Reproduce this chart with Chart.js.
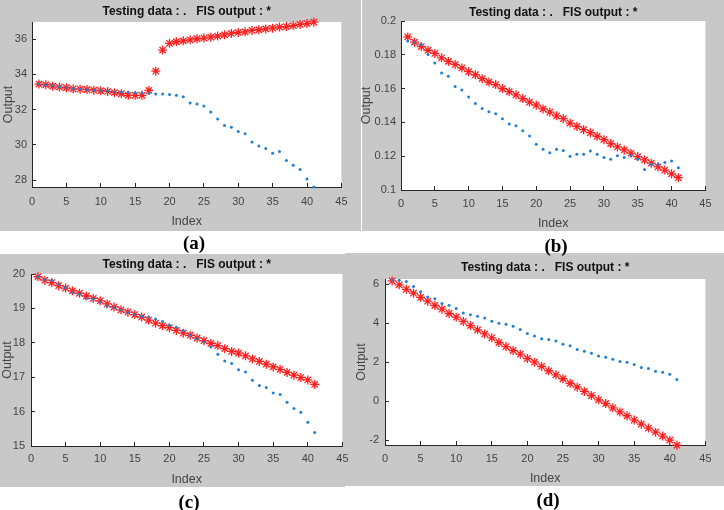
<!DOCTYPE html>
<html>
<head>
<meta charset="utf-8">
<title>Testing data : . FIS output : *</title>
<script src="https://cdn.jsdelivr.net/npm/chart.js@4.4.1/dist/chart.umd.min.js"></script>
<style>
    html, body { margin: 0; padding: 0; background: #ffffff; }
    #figure { position: relative; width: 724px; height: 510px; overflow: hidden; }
    .panel-bg { position: absolute; background: #c8c8c8; }
    canvas { position: absolute; }
    .sub-label {
        position: absolute;
        font: bold 19px 'Liberation Serif', 'Times New Roman', serif;
        color: #000;
        transform: translate(-50%, -50%);
        white-space: nowrap;
    }
</style>
</head>
<body>
<div id="figure">
    <div class="panel-bg" style="left:0px;top:0px;width:361px;height:231px"></div>
    <div class="panel-bg" style="left:362px;top:0px;width:362px;height:231px"></div>
    <div class="panel-bg" style="left:345px;top:253px;width:379px;height:233px"></div>
    <div class="panel-bg" style="left:0px;top:254px;width:345px;height:233px"></div>

    <canvas id="chartD" width="379" height="233" style="left:345px;top:253px"></canvas>
    <canvas id="chartC" width="360" height="233" style="left:0px;top:254px"></canvas>
    <canvas id="chartB" width="368" height="231" style="left:356px;top:0px"></canvas>
    <canvas id="chartA" width="361" height="231" style="left:0px;top:0px"></canvas>

    <div class="sub-label" style="left:194px;top:243px">(a)</div>
    <div class="sub-label" style="left:556px;top:246px">(b)</div>
    <div class="sub-label" style="left:189px;top:502px">(c)</div>
    <div class="sub-label" style="left:548px;top:500px">(d)</div>
</div>

<script>
// ---- data ----
const indexValues = [1, 2, 3, 4, 5, 6, 7, 8, 9, 10, 11, 12, 13, 14, 15, 16, 17, 18, 19, 20,
    21, 22, 23, 24, 25, 26, 27, 28, 29, 30, 31, 32, 33, 34, 35, 36, 37, 38, 39, 40, 41];
const xTicks = [0, 5, 10, 15, 20, 25, 30, 35, 40, 45];

// (a)
const testA = [33.45, 33.4, 33.35, 33.3, 33.25, 33.2, 33.15, 33.12, 33.1, 33.08,
    33.06, 33.03, 33.0, 32.98, 32.96, 32.94, 32.93, 32.88, 32.88, 32.86,
    32.81, 32.73, 32.38, 32.32, 32.21, 31.87, 31.47, 31.1, 31.0, 30.76,
    30.63, 30.16, 29.93, 29.8, 29.52, 29.63, 29.11, 28.85, 28.6, 28.06, 27.61];
const fisA = [33.45, 33.41, 33.33, 33.28, 33.24, 33.18, 33.16, 33.14, 33.1, 33.07,
    33.03, 32.96, 32.9, 32.81, 32.81, 32.81, 33.09, 34.18, 35.38, 35.76,
    35.85, 35.9, 35.96, 36.02, 36.06, 36.11, 36.17, 36.24, 36.32, 36.38,
    36.41, 36.49, 36.53, 36.58, 36.62, 36.68, 36.71, 36.77, 36.83, 36.88, 36.96];
const yTicksA = [28, 30, 32, 34, 36];
const yRangeA = [27.61, 36.97];

// (b)
const testB = [0.1882, 0.1875, 0.1861, 0.1802, 0.1751, 0.1692, 0.1673, 0.1612, 0.1592, 0.1551,
    0.1512, 0.1482, 0.1463, 0.1451, 0.1422, 0.139, 0.138, 0.1351, 0.132, 0.1271,
    0.1241, 0.122, 0.1241, 0.1233, 0.12, 0.1212, 0.1212, 0.1231, 0.1212, 0.1192,
    0.1182, 0.1202, 0.1192, 0.1204, 0.1182, 0.1122, 0.1153, 0.1153, 0.1163, 0.1171, 0.1131];
const fisB = [0.1906, 0.1875, 0.1849, 0.1827, 0.1808, 0.1782, 0.1761, 0.1743, 0.1722, 0.17,
    0.1682, 0.1659, 0.1639, 0.1624, 0.16, 0.1582, 0.1563, 0.1541, 0.152, 0.1502,
    0.148, 0.1461, 0.1439, 0.1422, 0.1396, 0.1376, 0.1357, 0.1339, 0.1318, 0.1298,
    0.1275, 0.1255, 0.1237, 0.1218, 0.1198, 0.1178, 0.1159, 0.1137, 0.1118, 0.1096, 0.1073];
const yTicksB = [0.1, 0.12, 0.14, 0.16, 0.18, 0.2];
const yRangeB = [0.1, 0.2];

// (c)
const testC = [19.92, 19.84, 19.82, 19.7, 19.6, 19.46, 19.42, 19.29, 19.27, 19.18,
    19.07, 19.02, 18.95, 18.88, 18.82, 18.77, 18.75, 18.69, 18.62, 18.51,
    18.45, 18.36, 18.22, 18.12, 18.02, 17.88, 17.67, 17.47, 17.4, 17.22,
    17.15, 16.91, 16.76, 16.7, 16.54, 16.5, 16.27, 16.09, 15.98, 15.69, 15.39];
const fisC = [19.92, 19.82, 19.75, 19.66, 19.59, 19.51, 19.44, 19.36, 19.29, 19.22,
    19.13, 19.04, 18.96, 18.89, 18.82, 18.75, 18.66, 18.57, 18.5, 18.44,
    18.36, 18.28, 18.22, 18.14, 18.06, 17.98, 17.92, 17.83, 17.75, 17.7,
    17.62, 17.53, 17.46, 17.38, 17.3, 17.23, 17.14, 17.06, 16.99, 16.92, 16.79];
const yTicksC = [15, 16, 17, 18, 19, 20];
const yRangeC = [15, 20];

// (d)
const testD = [6.22, 6.2, 6.14, 5.88, 5.62, 5.35, 5.26, 5.01, 4.92, 4.75,
    4.53, 4.43, 4.36, 4.27, 4.1, 4.0, 3.95, 3.85, 3.68, 3.47,
    3.35, 3.2, 3.16, 3.09, 2.92, 2.84, 2.65, 2.56, 2.46, 2.32,
    2.26, 2.15, 2.03, 2.0, 1.88, 1.73, 1.68, 1.54, 1.49, 1.38, 1.11];
const fisD = [6.17, 5.97, 5.74, 5.54, 5.33, 5.13, 4.91, 4.72, 4.5, 4.31,
    4.09, 3.88, 3.66, 3.45, 3.25, 3.01, 2.8, 2.6, 2.41, 2.19,
    2.0, 1.78, 1.56, 1.35, 1.15, 0.92, 0.72, 0.5, 0.29, 0.07,
    -0.12, -0.34, -0.55, -0.75, -0.97, -1.18, -1.38, -1.59, -1.79, -2.0, -2.26];
const yTicksD = [-2, 0, 2, 4, 6];
const yRangeD = [-2.25, 6.27];

const titleText = 'Testing data : .   FIS output : *';
const xTitle = 'Index';
const yTitle = 'Output';

// ---- styling ----
const FONT = "'Liberation Sans', Arial, Helvetica, sans-serif";
const AXIS_COLOR = '#262626';
const LABEL_COLOR = '#444444';
const DOT_COLOR = '#1f80d2';
const STAR_COLOR = '#ff1f1f';

// paint the plot area white like a MATLAB axes
const whiteAxesPlugin = {
    id: 'whiteAxes',
    beforeDraw(chart) {
        const a = chart.chartArea;
        const ctx = chart.ctx;
        ctx.save();
        ctx.fillStyle = '#ffffff';
        ctx.fillRect(a.left, a.top, a.right - a.left, a.bottom - a.top);
        ctx.restore();
    }
};

function toPoints(values) {
    return indexValues.map((x, i) => ({ x: x, y: values[i] }));
}

function makePanel(canvasId, testValues, fisValues, yTicks, yRange, box) {
    const ctx = document.getElementById(canvasId);
    return new Chart(ctx, {
        type: 'scatter',
        data: {
            datasets: [{
                label: 'Testing data',
                data: toPoints(testValues),
                pointStyle: 'circle',
                pointRadius: 1.5,
                pointBorderWidth: 0,
                pointBackgroundColor: DOT_COLOR,
                clip: false
            }, {
                label: 'FIS output',
                data: toPoints(fisValues),
                pointStyle: 'star',
                pointRadius: 4.5,
                pointBorderWidth: 1.3,
                pointBorderColor: STAR_COLOR,
                pointBackgroundColor: STAR_COLOR,
                clip: false
            }]
        },
        options: {
            responsive: false,
            animation: false,
            devicePixelRatio: 1,
            layout: { padding: { left: 0, top: 0, bottom: 0, right: box.padRight } },
            plugins: {
                legend: { display: false },
                tooltip: { enabled: false },
                title: {
                    display: true,
                    text: titleText,
                    fullSize: false,
                    color: '#111111',
                    font: { family: FONT, size: 12, weight: 'bold', lineHeight: 1 },
                    padding: { top: box.titleTop, bottom: box.titleBottom }
                }
            },
            scales: {
                x: {
                    type: 'linear',
                    min: 0,
                    max: 45,
                    afterBuildTicks: (scale) => { scale.ticks = xTicks.map(v => ({ value: v })); },
                    afterFit: (scale) => { scale.height = box.xHeight; },
                    grid: { drawOnChartArea: false, drawTicks: true, tickLength: -4, color: AXIS_COLOR },
                    border: { display: true, color: AXIS_COLOR, width: 1 },
                    ticks: {
                        autoSkip: false, maxRotation: 0, padding: box.xTickPad, color: LABEL_COLOR,
                        font: { family: FONT, size: 11, lineHeight: 1 },
                        callback: (v) => String(v)
                    },
                    title: {
                        display: true, text: xTitle, color: LABEL_COLOR,
                        font: { family: FONT, size: 12.5, lineHeight: 1 },
                        padding: { top: 0, bottom: box.xTitlePad }
                    }
                },
                y: {
                    type: 'linear',
                    min: yRange[0],
                    max: yRange[1],
                    afterBuildTicks: (scale) => { scale.ticks = yTicks.map(v => ({ value: v })); },
                    afterFit: (scale) => { scale.width = box.yWidth; },
                    grid: { drawOnChartArea: false, drawTicks: true, tickLength: -4, color: AXIS_COLOR },
                    border: { display: true, color: AXIS_COLOR, width: 1 },
                    ticks: {
                        autoSkip: false, padding: box.yTickPad, color: LABEL_COLOR,
                        font: { family: FONT, size: 11, lineHeight: 1 },
                        callback: (v) => String(v)
                    },
                    title: {
                        display: true, text: yTitle, color: LABEL_COLOR,
                        font: { family: FONT, size: 12.5, lineHeight: 1 },
                        padding: { top: box.yTitlePad, bottom: 0 }
                    }
                }
            }
        },
        plugins: [whiteAxesPlugin]
    });
}

// panel layouts (pixel offsets inside each canvas)
const layoutA = { padRight: 7,  titleTop: 6,   titleBottom: 4,   xHeight: 44, xTickPad: 13.5, xTitlePad: 2.75, yWidth: 32, yTickPad: 9,  yTitlePad: 2.75 };
const layoutB = { padRight: 13, titleTop: 6.7, titleBottom: 2.3, xHeight: 41, xTickPad: 12.5, xTitlePad: 0.75, yWidth: 45, yTickPad: 9,  yTitlePad: 4.75 };
const layoutC = { padRight: 15, titleTop: 5,   titleBottom: 3,   xHeight: 41, xTickPad: 11.5, xTitlePad: 0.75, yWidth: 31, yTickPad: 10, yTitlePad: 1.25 };
const layoutD = { padRight: 11, titleTop: 9,   titleBottom: 5,   xHeight: 41, xTickPad: 12.5, xTitlePad: 0.75, yWidth: 40, yTickPad: 10, yTitlePad: 10.75 };

document.addEventListener('DOMContentLoaded', function() {
    makePanel('chartD', testD, fisD, yTicksD, yRangeD, layoutD);
    makePanel('chartC', testC, fisC, yTicksC, yRangeC, layoutC);
    makePanel('chartB', testB, fisB, yTicksB, yRangeB, layoutB);
    makePanel('chartA', testA, fisA, yTicksA, yRangeA, layoutA);
});
</script>
</body>
</html>
